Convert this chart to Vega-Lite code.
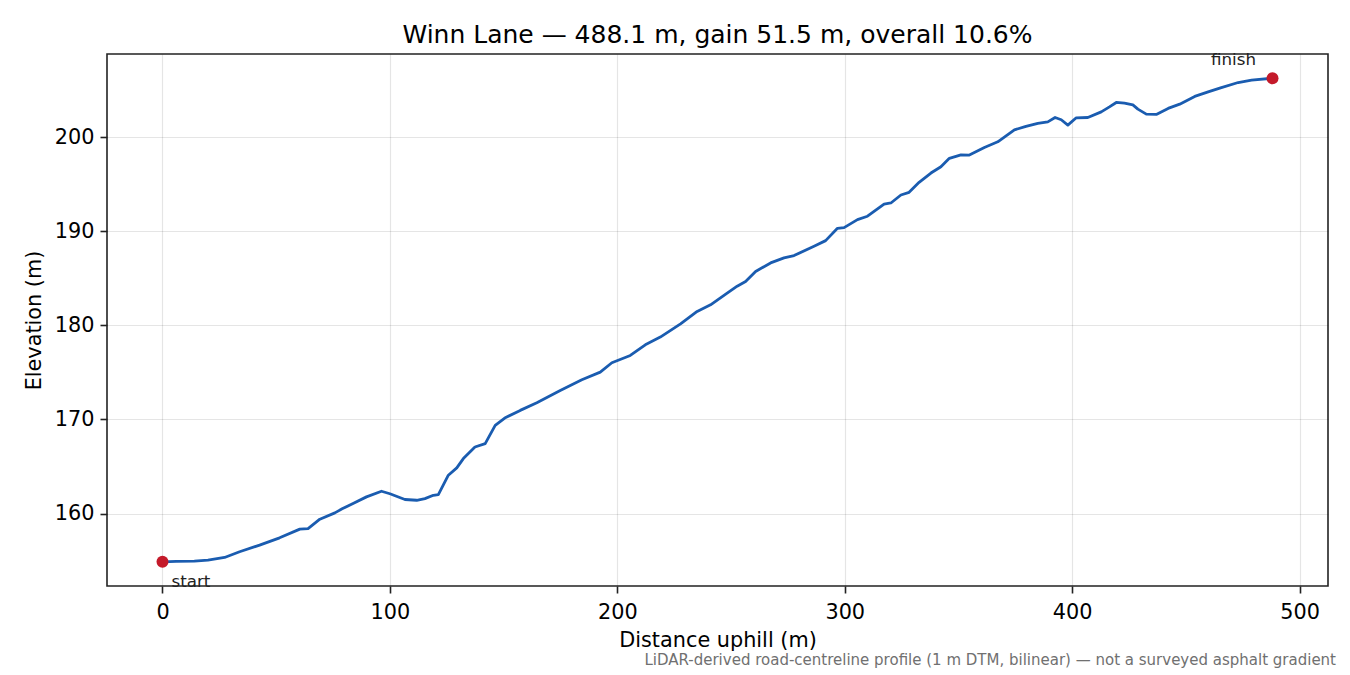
{
  "$schema": "https://vega.github.io/schema/vega-lite/v6.json",
  "autosize": {"type": "none"},
  "width": 1221,
  "height": 532,
  "padding": {"left": 107, "top": 54, "right": 22, "bottom": 89},
  "background": "white",
  "title": {
    "text": "Winn Lane — 488.1 m, gain 51.5 m, overall 10.6%",
    "font": "DejaVu Sans",
    "fontSize": 25,
    "fontWeight": "normal",
    "color": "black",
    "anchor": "middle",
    "baseline": "alphabetic",
    "offset": 12,
    "dy": 28
  },
  "datasets": {
    "profile": [
      {"dist": 0, "elev": 154.87},
      {"dist": 6, "elev": 154.92},
      {"dist": 14, "elev": 154.94},
      {"dist": 20, "elev": 155.05},
      {"dist": 27.3, "elev": 155.33},
      {"dist": 33.9, "elev": 155.94},
      {"dist": 42.7, "elev": 156.64},
      {"dist": 51.5, "elev": 157.42},
      {"dist": 60.4, "elev": 158.34},
      {"dist": 64, "elev": 158.4},
      {"dist": 69.2, "elev": 159.4},
      {"dist": 75.8, "elev": 160.07},
      {"dist": 79, "elev": 160.5},
      {"dist": 83.8, "elev": 161.06},
      {"dist": 89.7, "elev": 161.77},
      {"dist": 96.3, "elev": 162.37},
      {"dist": 100, "elev": 162.1},
      {"dist": 106.6, "elev": 161.49},
      {"dist": 111.8, "elev": 161.41},
      {"dist": 115.4, "elev": 161.59},
      {"dist": 119.1, "elev": 161.94},
      {"dist": 121.3, "elev": 162.0},
      {"dist": 125.7, "elev": 164.07},
      {"dist": 129.4, "elev": 164.85},
      {"dist": 132.3, "elev": 165.84},
      {"dist": 137.4, "elev": 167.07},
      {"dist": 141.9, "elev": 167.43},
      {"dist": 146.3, "elev": 169.37},
      {"dist": 150.5, "elev": 170.15},
      {"dist": 157.3, "elev": 170.96},
      {"dist": 164.6, "elev": 171.78},
      {"dist": 174.9, "elev": 173.08},
      {"dist": 184.4, "elev": 174.22},
      {"dist": 192.5, "elev": 175.03},
      {"dist": 197.6, "elev": 176.02},
      {"dist": 205.7, "elev": 176.8},
      {"dist": 212.3, "elev": 177.93},
      {"dist": 218.9, "elev": 178.75},
      {"dist": 227.8, "elev": 180.16},
      {"dist": 235.1, "elev": 181.47},
      {"dist": 241, "elev": 182.18},
      {"dist": 248.3, "elev": 183.42},
      {"dist": 252.7, "elev": 184.16},
      {"dist": 256.4, "elev": 184.65},
      {"dist": 260.8, "elev": 185.71},
      {"dist": 267.4, "elev": 186.63},
      {"dist": 273.3, "elev": 187.16},
      {"dist": 277.7, "elev": 187.41},
      {"dist": 286.5, "elev": 188.4},
      {"dist": 291.6, "elev": 189.0},
      {"dist": 296.8, "elev": 190.31},
      {"dist": 299.7, "elev": 190.38},
      {"dist": 305.6, "elev": 191.23},
      {"dist": 310, "elev": 191.59},
      {"dist": 317.3, "elev": 192.89},
      {"dist": 320.3, "elev": 193.0},
      {"dist": 324.7, "elev": 193.85},
      {"dist": 328.3, "elev": 194.13},
      {"dist": 332.7, "elev": 195.19},
      {"dist": 337.9, "elev": 196.18},
      {"dist": 342.3, "elev": 196.85},
      {"dist": 346, "elev": 197.74},
      {"dist": 351.1, "elev": 198.12},
      {"dist": 354.8, "elev": 198.09},
      {"dist": 361.4, "elev": 198.9},
      {"dist": 367.3, "elev": 199.5},
      {"dist": 374.6, "elev": 200.77},
      {"dist": 379.7, "elev": 201.13},
      {"dist": 384.9, "elev": 201.45},
      {"dist": 389.3, "elev": 201.62},
      {"dist": 392.5, "elev": 202.08},
      {"dist": 395.2, "elev": 201.84},
      {"dist": 398.1, "elev": 201.27},
      {"dist": 401.8, "elev": 202.05},
      {"dist": 406.9, "elev": 202.08},
      {"dist": 412.8, "elev": 202.68},
      {"dist": 416.4, "elev": 203.21},
      {"dist": 419.4, "elev": 203.68},
      {"dist": 423, "elev": 203.61},
      {"dist": 426.7, "elev": 203.43},
      {"dist": 428.9, "elev": 202.97},
      {"dist": 432.6, "elev": 202.44},
      {"dist": 437, "elev": 202.41},
      {"dist": 442.2, "elev": 203.05},
      {"dist": 447.3, "elev": 203.5},
      {"dist": 453.9, "elev": 204.32},
      {"dist": 459.8, "elev": 204.81},
      {"dist": 464.9, "elev": 205.2},
      {"dist": 473, "elev": 205.8},
      {"dist": 478.9, "elev": 206.05},
      {"dist": 488.1, "elev": 206.26}
    ],
    "ends": [
      {"dist": 0, "elev": 154.87, "label": "start"},
      {"dist": 488.1, "elev": 206.26, "label": "finish"}
    ],
    "footnote": [
      {"caption": "LiDAR-derived road-centreline profile (1 m DTM, bilinear) — not a surveyed asphalt gradient"}
    ]
  },
  "layer": [
    {
      "data": {"name": "profile"},
      "mark": {"type": "line", "color": "#1a5cb0", "strokeWidth": 2.8, "strokeCap": "round", "strokeJoin": "round"},
      "encoding": {
        "x": {
          "field": "dist",
          "type": "quantitative",
          "title": "Distance uphill (m)",
          "scale": {"domain": [-24.4, 512.5], "nice": false, "zero": false},
          "axis": {"values": [0, 100, 200, 300, 400, 500], "titlePadding": 9, "labelPadding": 9}
        },
        "y": {
          "field": "elev",
          "type": "quantitative",
          "title": "Elevation (m)",
          "scale": {"domain": [152.3, 208.83], "nice": false, "zero": false},
          "axis": {"values": [160, 170, 180, 190, 200], "titlePadding": 10}
        }
      }
    },
    {
      "data": {"name": "ends"},
      "mark": {"type": "point", "filled": true, "color": "#c41a2a", "size": 144, "opacity": 1},
      "encoding": {
        "x": {"field": "dist", "type": "quantitative"},
        "y": {"field": "elev", "type": "quantitative"}
      }
    },
    {
      "data": {"name": "ends"},
      "transform": [{"filter": "datum.label == 'start'"}],
      "mark": {"type": "text", "align": "left", "baseline": "alphabetic", "dx": 9, "dy": 25, "font": "DejaVu Sans", "fontSize": 16.7, "color": "#222"},
      "encoding": {
        "x": {"field": "dist", "type": "quantitative"},
        "y": {"field": "elev", "type": "quantitative"},
        "text": {"field": "label"}
      }
    },
    {
      "data": {"name": "ends"},
      "transform": [{"filter": "datum.label == 'finish'"}],
      "mark": {"type": "text", "align": "center", "baseline": "alphabetic", "dx": -39, "dy": -13, "font": "DejaVu Sans", "fontSize": 16.7, "color": "#222"},
      "encoding": {
        "x": {"field": "dist", "type": "quantitative"},
        "y": {"field": "elev", "type": "quantitative"},
        "text": {"field": "label"}
      }
    },
    {
      "data": {"name": "footnote"},
      "mark": {"type": "text", "align": "right", "baseline": "alphabetic", "dx": 8, "dy": 79, "font": "DejaVu Sans", "fontSize": 15, "color": "#707070"},
      "encoding": {
        "x": {"datum": 512.5, "type": "quantitative"},
        "y": {"datum": 152.3, "type": "quantitative"},
        "text": {"field": "caption", "type": "nominal"}
      }
    }
  ],
  "config": {
    "view": {"stroke": "#222", "strokeWidth": 1.6},
    "axis": {
      "domain": false,
      "grid": true,
      "gridColor": "#000",
      "gridOpacity": 0.1,
      "gridWidth": 1.2,
      "tickColor": "#222",
      "tickSize": 7,
      "tickWidth": 1.6,
      "labelFont": "DejaVu Sans",
      "labelFontSize": 20.8,
      "labelColor": "black",
      "labelPadding": 6,
      "titleFont": "DejaVu Sans",
      "titleFontSize": 20.8,
      "titleFontWeight": "normal",
      "titleColor": "black"
    }
  }
}
